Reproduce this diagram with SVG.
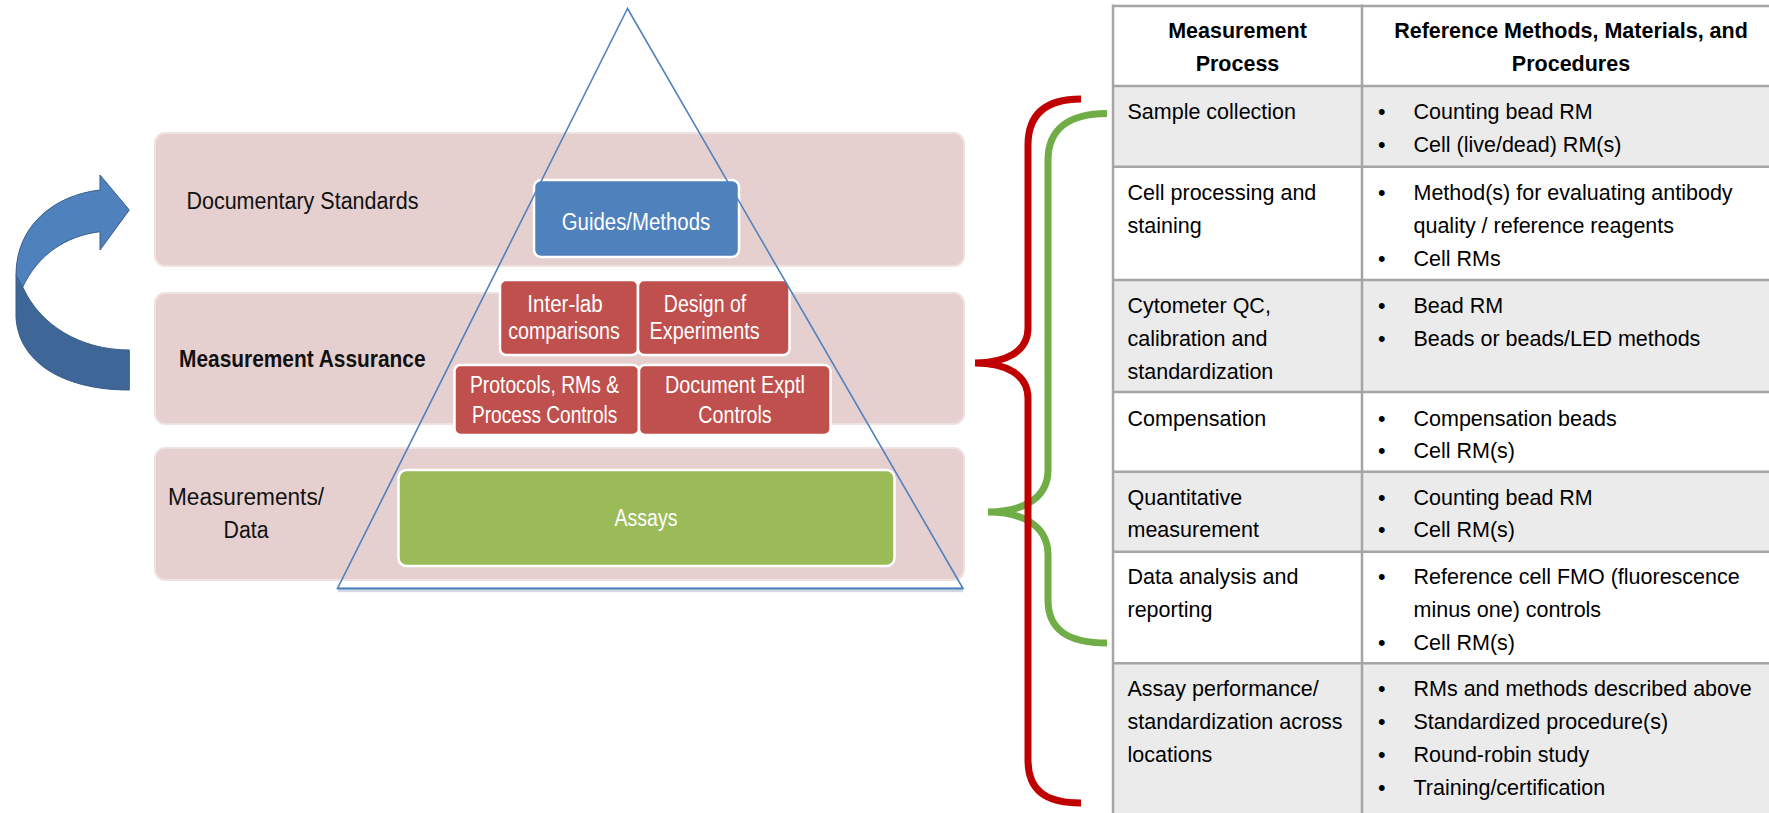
<svg xmlns="http://www.w3.org/2000/svg" width="1769" height="813" viewBox="0 0 1769 813">
<style>
.band{fill:#E6CFCF;stroke:#EFE2E2;stroke-width:2}
.lbl{font-family:"Liberation Sans",Arial,sans-serif;font-size:23px;fill:#111}
.wt{font-family:"Liberation Sans",Arial,sans-serif;font-size:23px;fill:#fff;text-anchor:middle}
.red{fill:#C0504D;stroke:#fff;stroke-width:2.5}
.tb{font-family:"Liberation Sans",Arial,sans-serif;font-size:21.5px;fill:#000}
.th{font-family:"Liberation Sans",Arial,sans-serif;font-size:21.5px;font-weight:bold;fill:#000;text-anchor:middle}
.gl{stroke:#A5A5A5;stroke-width:2.5;fill:none}
.gray{fill:#EBEBEB}
</style>
<rect width="1769" height="813" fill="#fff"/>

<g id="arrow">
<path d="M16,275 L16,317 C18,360 60,390 129.3,390 L129.3,350 C80,350 40,325 22.7,287 Z" fill="#3E6798" stroke="#385D8A" stroke-width="1"/>
<path d="M100,175 L129.3,210 L100,250 L100,231.7 C65,236 38,255 22.7,287 L16,275 C16,225 55,195 100,190 Z" fill="#4F81BD" stroke="#385D8A" stroke-width="1"/>
</g>

<g id="band-documentary">
<rect class="band" x="155" y="133" width="809" height="133" rx="10"/>
<text class="lbl" x="186.4" y="208.5" textLength="232" lengthAdjust="spacingAndGlyphs">Documentary Standards</text>
</g>
<g id="band-assurance">
<rect class="band" x="155" y="293" width="809" height="131" rx="10"/>
<text class="lbl" x="179" y="367" font-weight="bold" textLength="246.5" lengthAdjust="spacingAndGlyphs">Measurement Assurance</text>
</g>
<g id="band-data">
<rect class="band" x="155" y="448" width="809" height="132" rx="10"/>
<text class="lbl" x="246" y="504.5" text-anchor="middle" textLength="156" lengthAdjust="spacingAndGlyphs">Measurements/</text>
<text class="lbl" x="246" y="537.5" text-anchor="middle" textLength="45" lengthAdjust="spacingAndGlyphs">Data</text>
</g>

<g id="guides">
<rect x="534" y="180" width="205" height="77" rx="7" fill="#4F81BD" stroke="#fff" stroke-width="2.5"/>
<text class="wt" x="636" y="230" textLength="148.5" lengthAdjust="spacingAndGlyphs">Guides/Methods</text>
</g>
<g id="interlab">
<rect class="red" x="500" y="280" width="138" height="75" rx="6"/>
<text class="wt" x="565" y="311.5" textLength="75.4" lengthAdjust="spacingAndGlyphs">Inter-lab</text>
<text class="wt" x="564" y="339" textLength="111.7" lengthAdjust="spacingAndGlyphs">comparisons</text>
</g>
<g id="design">
<rect class="red" x="638" y="280" width="151.5" height="75" rx="6"/>
<text class="wt" x="705" y="311.5" textLength="82.3" lengthAdjust="spacingAndGlyphs">Design of</text>
<text class="wt" x="704.6" y="339" textLength="110.2" lengthAdjust="spacingAndGlyphs">Experiments</text>
</g>
<g id="protocols">
<rect class="red" x="454.5" y="365" width="184.5" height="70" rx="6"/>
<text class="wt" x="544.5" y="393.3" textLength="149" lengthAdjust="spacingAndGlyphs">Protocols, RMs &amp;</text>
<text class="wt" x="544.7" y="423.3" textLength="145.4" lengthAdjust="spacingAndGlyphs">Process Controls</text>
</g>
<g id="document">
<rect class="red" x="639" y="365" width="191.5" height="70" rx="6"/>
<text class="wt" x="735" y="393.3" textLength="140" lengthAdjust="spacingAndGlyphs">Document Exptl</text>
<text class="wt" x="735" y="423.3" textLength="73.3" lengthAdjust="spacingAndGlyphs">Controls</text>
</g>
<g id="assays">
<rect x="398.5" y="470" width="496" height="96" rx="8" fill="#9BBB59" stroke="#fff" stroke-width="2.5"/>
<text class="wt" x="646" y="525.5" font-size="25" textLength="63" lengthAdjust="spacingAndGlyphs">Assays</text>
</g>

<g id="pyramid">
<line x1="338" y1="591" x2="963" y2="591" stroke="#D3D9E3" stroke-width="2.5"/>
<polygon points="627.5,8.5 337.5,588.5 963,588.5" fill="none" stroke="#4F81BD" stroke-width="1.6" stroke-linejoin="miter"/>
<line x1="337.5" y1="588.5" x2="963" y2="588.5" stroke="#4F81BD" stroke-width="2.2"/>
</g>

<g id="connectors" fill="none" stroke-width="7" stroke-linecap="butt">
<path d="M1107,113.5 C1068,113.5 1048,130 1048,160 L1048,470 C1048,500 1020,512 988,512 C1020,512 1048,524 1048,555 L1048,600 C1048,630 1068,643 1107,643" stroke="#70AD47"/>
<path d="M1081,99 C1045,99 1028,115 1028,145 L1028,328 C1028,352 1005,363 975,363 C1005,363 1028,374 1028,398 L1028,760 C1028,790 1045,803 1081,803" stroke="#C00000"/>
</g>

<g id="table">
<rect x="1113" y="86" width="656" height="80.7" class="gray"/>
<rect x="1113" y="280" width="656" height="112" class="gray"/>
<rect x="1113" y="471.7" width="656" height="80" class="gray"/>
<rect x="1113" y="663.3" width="656" height="150" class="gray"/>
<line class="gl" x1="1113" y1="6" x2="1769" y2="6" stroke-width="3"/>
<line class="gl" x1="1113" y1="86" x2="1769" y2="86" stroke-width="4.5"/>
<line class="gl" x1="1113" y1="166.7" x2="1769" y2="166.7"/>
<line class="gl" x1="1113" y1="280" x2="1769" y2="280"/>
<line class="gl" x1="1113" y1="392" x2="1769" y2="392"/>
<line class="gl" x1="1113" y1="471.7" x2="1769" y2="471.7"/>
<line class="gl" x1="1113" y1="551.7" x2="1769" y2="551.7"/>
<line class="gl" x1="1113" y1="663.3" x2="1769" y2="663.3"/>
<line class="gl" x1="1113" y1="4.5" x2="1113" y2="813"/>
<line class="gl" x1="1362" y1="4.5" x2="1362" y2="813"/>

<text class="th" x="1237.5" y="38">Measurement</text>
<text class="th" x="1237.5" y="71">Process</text>
<text class="th" x="1571" y="38">Reference Methods, Materials, and</text>
<text class="th" x="1571" y="71">Procedures</text>

<g class="tb">
<text x="1127.5" y="118.5">Sample collection</text>
<text x="1378" y="118.5">•</text><text x="1413.5" y="118.5">Counting bead RM</text>
<text x="1378" y="151.5">•</text><text x="1413.5" y="151.5">Cell (live/dead) RM(s)</text>

<text x="1127.5" y="200">Cell processing and</text>
<text x="1127.5" y="232.7">staining</text>
<text x="1378" y="200">•</text><text x="1413.5" y="200">Method(s) for evaluating antibody</text>
<text x="1413.5" y="232.7">quality / reference reagents</text>
<text x="1378" y="265.5">•</text><text x="1413.5" y="265.5">Cell RMs</text>

<text x="1127.5" y="313">Cytometer QC,</text>
<text x="1127.5" y="346">calibration and</text>
<text x="1127.5" y="378.7">standardization</text>
<text x="1378" y="313">•</text><text x="1413.5" y="313">Bead RM</text>
<text x="1378" y="346">•</text><text x="1413.5" y="346">Beads or beads/LED methods</text>

<text x="1127.5" y="425.5">Compensation</text>
<text x="1378" y="425.5">•</text><text x="1413.5" y="425.5">Compensation beads</text>
<text x="1378" y="458">•</text><text x="1413.5" y="458">Cell RM(s)</text>

<text x="1127.5" y="504.5">Quantitative</text>
<text x="1127.5" y="537">measurement</text>
<text x="1378" y="504.5">•</text><text x="1413.5" y="504.5">Counting bead RM</text>
<text x="1378" y="537">•</text><text x="1413.5" y="537">Cell RM(s)</text>

<text x="1127.5" y="584">Data analysis and</text>
<text x="1127.5" y="617">reporting</text>
<text x="1378" y="584">•</text><text x="1413.5" y="584">Reference cell FMO (fluorescence</text>
<text x="1413.5" y="617">minus one) controls</text>
<text x="1378" y="650">•</text><text x="1413.5" y="650">Cell RM(s)</text>

<text x="1127.5" y="696">Assay performance/</text>
<text x="1127.5" y="729">standardization across</text>
<text x="1127.5" y="762">locations</text>
<text x="1378" y="696">•</text><text x="1413.5" y="696">RMs and methods described above</text>
<text x="1378" y="729">•</text><text x="1413.5" y="729">Standardized procedure(s)</text>
<text x="1378" y="762">•</text><text x="1413.5" y="762">Round-robin study</text>
<text x="1378" y="795">•</text><text x="1413.5" y="795">Training/certification</text>
</g>
</g>
</svg>
